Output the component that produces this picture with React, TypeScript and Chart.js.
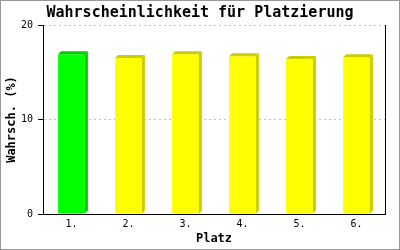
import React, { useEffect, useRef } from "react";
import { Chart, registerables } from "chart.js";

Chart.register(...registerables);

const titleText = "Wahrscheinlichkeit für Platzierung";
const categories = ["1.", "2.", "3.", "4.", "5.", "6."];
const values = [16.9, 16.5, 16.9, 16.7, 16.4, 16.6];
const frontColors = ["#00ff00", "#ffff00", "#ffff00", "#ffff00", "#ffff00", "#ffff00"];
const sideColors = ["#00cc00", "#cccc00", "#cccc00", "#cccc00", "#cccc00", "#cccc00"];
const yTicks = [0, 10, 20];

const MONO = "'DejaVu Sans Mono', 'Liberation Mono', monospace";

const bar3d = {
  id: "bar3d",
  afterDatasetsDraw(chart: any) {
    const ctx = chart.ctx;
    const meta = chart.getDatasetMeta(0);
    const d = 3;
    meta.data.forEach((bar: any, i: number) => {
      const { x, y, base, width } = bar.getProps(["x", "y", "base", "width"], true);
      const left = x - width / 2;
      const right = x + width / 2;
      ctx.save();
      ctx.fillStyle = sideColors[i];
      ctx.beginPath();
      ctx.moveTo(right, y);
      ctx.lineTo(right + d, y - d);
      ctx.lineTo(right + d, base - d);
      ctx.lineTo(right, base);
      ctx.closePath();
      ctx.fill();
      ctx.beginPath();
      ctx.moveTo(left, y);
      ctx.lineTo(left + d, y - d);
      ctx.lineTo(right + d, y - d);
      ctx.lineTo(right, y);
      ctx.closePath();
      ctx.fill();
      ctx.restore();
    });
  },
  afterDraw(chart: any) {
    const ctx = chart.ctx;
    const a = chart.chartArea;
    ctx.save();
    ctx.strokeStyle = "#000000";
    ctx.lineWidth = 1;
    ctx.beginPath();
    ctx.moveTo(Math.round(a.right) + 0.5, a.top);
    ctx.lineTo(Math.round(a.right) + 0.5, a.bottom);
    ctx.stroke();
    ctx.fillStyle = "#000000";
    ctx.font = `bold 15px ${MONO}`;
    ctx.textAlign = "center";
    ctx.textBaseline = "middle";
    ctx.fillText(titleText, chart.width / 2, 13);
    ctx.strokeStyle = "#999999";
    ctx.strokeRect(0.5, 0.5, chart.width - 1, chart.height - 1);
    ctx.restore();
  },
};

export default function App() {
  const ref = useRef<HTMLCanvasElement | null>(null);
  useEffect(() => {
    document.body.style.margin = "0";
    const chart = new Chart(ref.current as HTMLCanvasElement, {
      type: "bar",
      data: {
        labels: categories,
        datasets: [
          {
            data: values,
            backgroundColor: frontColors,
            borderWidth: 0,
            barPercentage: 0.47,
            categoryPercentage: 1,
          },
        ],
      },
      options: {
        animation: false,
        responsive: false,
        devicePixelRatio: 1,
        layout: { padding: { left: 0, right: 15, top: 25, bottom: 0 } },
        plugins: {
          legend: { display: false },
          tooltip: { enabled: false },
          title: { display: false },
        },
        scales: {
          x: {
            grid: { display: false, drawTicks: false, tickLength: 0 },
            border: { display: true, color: "#000000", width: 1 },
            ticks: { color: "#000000", font: { family: MONO, size: 10 }, padding: 4 },
            title: {
              display: true,
              text: "Platz",
              color: "#000000",
              font: { family: MONO, size: 12, weight: "bold" },
              padding: { top: 0, bottom: 4 },
            },
            afterFit(scale: any) {
              scale.height = 36;
            },
          },
          y: {
            min: 0,
            max: 20,
            afterBuildTicks(scale: any) {
              scale.ticks = yTicks.map((v) => ({ value: v }));
            },
            grid: {
              color: "#c0c0c0",
              lineWidth: 1,
              tickLength: 5,
              tickColor: "#000000",
              drawTicks: true,
            },
            border: { display: true, color: "#000000", width: 1, dash: [2, 3] },
            ticks: { color: "#000000", font: { family: MONO, size: 10 }, padding: 5 },
            title: {
              display: true,
              text: "Wahrsch. (%)",
              color: "#000000",
              font: { family: MONO, size: 12, weight: "bold" },
              padding: { top: 5, bottom: 0 },
            },
            afterFit(scale: any) {
              scale.width = 43;
            },
          },
        },
      },
      plugins: [bar3d],
    });
    return () => chart.destroy();
  }, []);
  return <canvas ref={ref} width={400} height={250} style={{ display: "block" }} />;
}
